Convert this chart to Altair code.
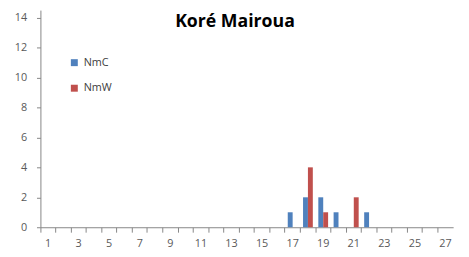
import altair as alt
import pandas as pd

categories = list(range(1, 28))
nmc_cats = [17, 18, 19, 20, 22]
nmc_vals = [1, 2, 2, 1, 1]
nmw_cats = [18, 19, 21]
nmw_vals = [4, 1, 2]
series = ["NmC", "NmW"]
colors = ["#4F81BD", "#C0504D"]
y_ticks = [0, 2, 4, 6, 8, 10, 12, 14]

rows = [{"cat": c, "v": v, "s": "NmC"} for c, v in zip(nmc_cats, nmc_vals)]
rows += [{"cat": c, "v": v, "s": "NmW"} for c, v in zip(nmw_cats, nmw_vals)]
df = pd.DataFrame(rows)

font = "Open Sans"

chart = alt.Chart(df).mark_bar().encode(
    x=alt.X("cat:O", scale=alt.Scale(domain=categories, paddingInner=0.36, paddingOuter=0.18),
            axis=alt.Axis(title=None, labelAngle=0, bandPosition=-0.28125,
                          labelExpr="datum.value % 2 == 1 ? datum.label : ''",
                          domainColor="#868686", tickColor="#868686", tickSize=5,
                          labelColor="#595959", labelFontSize=11, labelFont=font, labelPadding=6)),
    xOffset=alt.XOffset("s:N", scale=alt.Scale(domain=series, paddingInner=0, paddingOuter=0)),
    y=alt.Y("v:Q", scale=alt.Scale(domain=[0, 14.5], nice=False),
            axis=alt.Axis(title=None, values=y_ticks, grid=False, domainColor="#868686",
                          tickColor="#868686", tickSize=4, labelColor="#595959",
                          labelFontSize=11, labelFont=font, labelPadding=10)),
    color=alt.Color("s:N", scale=alt.Scale(domain=series, range=colors),
                    legend=alt.Legend(title=None, orient="none", legendX=29, legendY=48,
                                      symbolType="square", symbolSize=50, rowPadding=14,
                                      labelFontSize=11, labelFont=font, labelColor="#404040",
                                      symbolStrokeWidth=0)),
).properties(
    width=420, height=221,
    title=alt.TitleParams("Koré Mairoua", fontSize=18, font=font, fontWeight="bold",
                          color="#000000", anchor="middle", dx=-12, dy=21, offset=0),
    autosize=alt.AutoSizeParams(type="none"),
    padding={"left": 33, "top": 0, "right": 8, "bottom": 20},
).configure_view(stroke=None)

chart.save("out.html", embed_options={"renderer": "svg", "actions": False})
